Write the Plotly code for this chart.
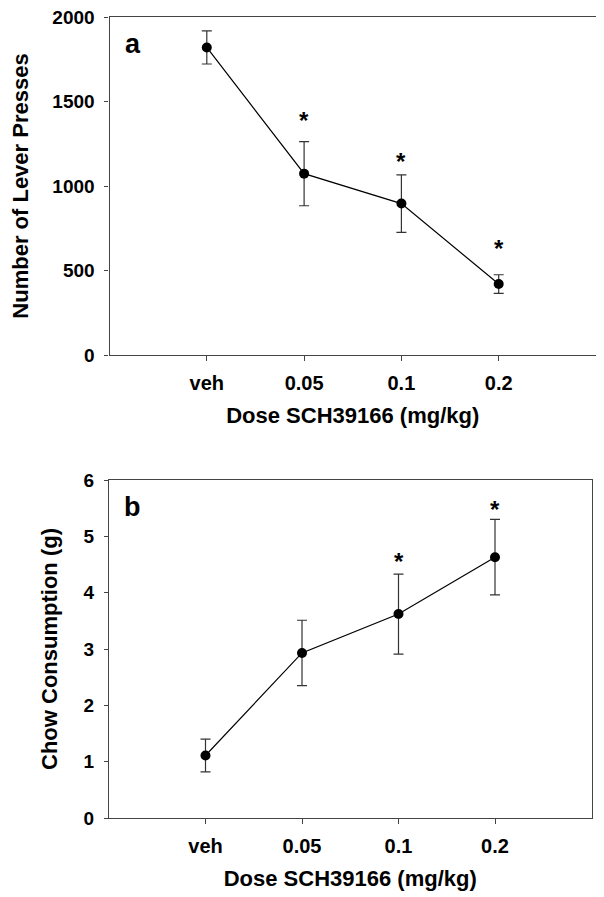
import plotly.graph_objects as go

# ---- data ----
doses = ["veh", "0.05", "0.1", "0.2"]

lever_mean = [1820, 1073, 896, 420]
lever_err = [98, 190, 170, 55]
lever_star = [None, 1413, 1167, 651]

chow_mean = [1.11, 2.93, 3.62, 4.63]
chow_err = [0.29, 0.58, 0.71, 0.67]
chow_star = [None, None, 4.62, 5.54]

W, H = 604, 897
OFF = 8  # default page (body) margin of the html page
FONT = "Liberation Sans, Arial, Helvetica, sans-serif"
AXC = "#444444"


def dx(p):
    return (p - OFF) / W


def dy(p):
    return 1 - (p - OFF) / H


fig = go.Figure()


def add_panel(xref, yref, mean, err):
    fig.add_trace(go.Scatter(
        x=doses, y=mean, xaxis=xref, yaxis=yref,
        mode="lines+markers",
        line=dict(color="black", width=1.2),
        marker=dict(color="black", size=10),
        error_y=dict(type="data", array=err, visible=True,
                     color="#333333", thickness=1.2, width=5),
        showlegend=False, hoverinfo="skip",
    ))


add_panel("x", "y", lever_mean, lever_err)
add_panel("x2", "y2", chow_mean, chow_err)


def xaxis_cfg(domain, anchor):
    return dict(
        domain=domain, anchor=anchor, type="category",
        categoryorder="array", categoryarray=doses, automargin=False,
        range=[-1, 4], showline=True, linecolor=AXC, linewidth=1.2,
        mirror=True, ticks="outside", ticklen=5, tickwidth=1.2, tickcolor=AXC,
        showgrid=False, zeroline=False, ticklabelstandoff=5,
        ticklabeloverflow="allow",
        tickfont=dict(family=FONT, size=20, color="black", weight="bold"),
        title=dict(text="Dose SCH39166 (mg/kg)", standoff=14,
                   font=dict(family=FONT, size=22, color="black", weight="bold")),
    )


def yaxis_cfg(domain, anchor, rng, dtick, title, standoff):
    return dict(
        domain=domain, anchor=anchor, range=rng, dtick=dtick, tick0=0,
        automargin=False,
        showline=True, linecolor=AXC, linewidth=1.2, mirror=True,
        ticks="outside", ticklen=4, tickwidth=1.2, tickcolor=AXC,
        showgrid=False, zeroline=False, ticklabelstandoff=6,
        ticklabeloverflow="allow",
        tickfont=dict(family=FONT, size=19, color="black", weight="bold"),
        title=dict(text=title, standoff=standoff,
                   font=dict(family=FONT, size=22, color="black", weight="bold")),
    )


fig.update_layout(
    width=W, height=H,
    margin=dict(l=0, r=0, t=0, b=0),
    paper_bgcolor="white", plot_bgcolor="white",
    xaxis=xaxis_cfg([dx(109.5), dx(596)], "y"),
    yaxis=yaxis_cfg([dy(355), dy(17)], "x", [0, 2000], 500,
                    "Number of Lever Presses", 37),
    xaxis2=xaxis_cfg([dx(109), dx(591.5)], "y2"),
    yaxis2=yaxis_cfg([dy(818), dy(480)], "x2", [0, 6], 1,
                     "Chow Consumption (g)", 19),
)

annotations = []
for xr, yr, stars in (("x", "y", lever_star), ("x2", "y2", chow_star)):
    for i, s in enumerate(stars):
        if s is not None:
            annotations.append(dict(
                x=i, y=s, xref=xr, yref=yr, text="*", showarrow=False,
                yanchor="middle", yshift=-4,
                font=dict(family=FONT, size=24, color="black", weight="bold")))

for label, xr, yr in (("a", "x domain", "y domain"), ("b", "x2 domain", "y2 domain")):
    annotations.append(dict(
        x=0.048, y=0.92, xref=xr, yref=yr, text=label, showarrow=False,
        xanchor="center", yanchor="middle",
        font=dict(family=FONT, size=27, color="black", weight="bold")))

fig.update_layout(annotations=annotations)

fig.write_html("out.html")
